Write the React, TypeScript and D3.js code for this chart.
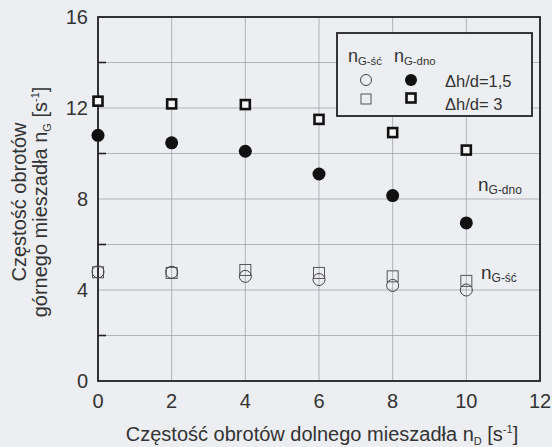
import * as d3 from "d3";

const xVals = [0, 2, 4, 6, 8, 10];
const dnoH15 = [10.8, 10.47, 10.1, 9.1, 8.15, 6.95];
const dnoH3 = [12.3, 12.18, 12.15, 11.5, 10.92, 10.15];
const scH15 = [4.8, 4.78, 4.6, 4.46, 4.2, 4.0];
const scH3 = [4.78, 4.75, 4.88, 4.75, 4.6, 4.4];
const xTicks = [0, 2, 4, 6, 8, 10, 12];
const yTicks = [0, 4, 8, 12, 16];
const yMinor = [2, 6, 10, 14];

const W = 552;
const H = 447;
const m = { left: 98, right: 540, top: 17, bottom: 381 };
const font = "Liberation Sans, Arial, sans-serif";

export default function App() {
  const x = d3.scaleLinear().domain([0, 12]).range([m.left, m.right]);
  const y = d3.scaleLinear().domain([0, 16]).range([m.bottom, m.top]);
  const grid = "#9a9aa0";

  const sq = (cx: number, cy: number, s: number, key: string, bold: boolean) => (
    <rect key={key} x={cx - s / 2} y={cy - s / 2} width={s} height={s}
      fill={bold ? "#f4f4f4" : "none"} stroke={bold ? "#111" : "#555"} strokeWidth={bold ? 2.6 : 1} />
  );

  // n with subscript label
  const nLabel = (tx: number, ty: number, sub: string, size = 19) => (
    <text x={tx} y={ty} fontSize={size} fill="#333">
      n<tspan fontSize={size * 0.63} dy={3}>{sub}</tspan>
    </text>
  );

  return (
    <svg width={W} height={H} style={{ position: "absolute", left: 0, top: 0, background: "#eceef2" }}
      fontFamily={font}>
      <rect x={0} y={0} width={W} height={H} fill="#eceef2" />
      {/* gridlines */}
      {xTicks.map((t) => (
        <line key={"gx" + t} x1={x(t)} x2={x(t)} y1={m.top} y2={m.bottom} stroke={grid} strokeWidth={0.7} />
      ))}
      {[...yTicks, ...yMinor].map((t) => (
        <line key={"gy" + t} x1={m.left} x2={m.right} y1={y(t)} y2={y(t)} stroke={grid} strokeWidth={0.7} />
      ))}
      {yMinor.map((t) => (
        <line key={"tk" + t} x1={m.left} x2={m.left + 8} y1={y(t)} y2={y(t)} stroke="#222" strokeWidth={1.6} />
      ))}
      <rect x={m.left} y={m.top} width={m.right - m.left} height={m.bottom - m.top}
        fill="none" stroke="#222" strokeWidth={1.8} />
      {/* tick labels */}
      {xTicks.map((t) => (
        <text key={"xl" + t} x={x(t)} y={408} textAnchor="middle" fontSize={20} fill="#333">{t}</text>
      ))}
      {yTicks.map((t) => (
        <text key={"yl" + t} x={88} y={y(t) + 7} textAnchor="end" fontSize={20} fill="#333">{t}</text>
      ))}
      {/* axis titles */}
      <text x={322} y={441} textAnchor="middle" fontSize={20} fill="#333">
        Częstość obrotów dolnego mieszadła n<tspan fontSize={11} dy={4}>D</tspan>
        <tspan dy={-4}> [s</tspan><tspan fontSize={11} dy={-8}>-1</tspan><tspan dy={8}>]</tspan>
      </text>
      <g transform="translate(26,202) rotate(-90)">
        <text x={0} y={0} textAnchor="middle" fontSize={20} fill="#333">Częstość obrotów</text>
        <text x={0} y={21} textAnchor="middle" fontSize={20} fill="#333">
          górnego mieszadła n<tspan fontSize={11} dy={4}>G</tspan>
          <tspan dy={-4}> [s</tspan><tspan fontSize={11} dy={-8}>-1</tspan><tspan dy={8}>]</tspan>
        </text>
      </g>
      {/* data */}
      {xVals.map((v, i) => sq(x(v), y(scH3[i]), 11, "s3" + i, false))}
      {xVals.map((v, i) => (
        <circle key={"c15" + i} cx={x(v)} cy={y(scH15[i])} r={6} fill="none" stroke="#444" strokeWidth={1} />
      ))}
      {xVals.map((v, i) => (
        <circle key={"d15" + i} cx={x(v)} cy={y(dnoH15[i])} r={6.5} fill="#111" />
      ))}
      {xVals.map((v, i) => sq(x(v), y(dnoH3[i]), 9, "d3" + i, true))}
      {/* annotations */}
      {nLabel(478, 191, "G-dno")}
      {nLabel(481, 279, "G-ść")}
      {/* legend */}
      <rect x={337} y={33} width={195} height={83} fill="#eceef2" stroke="#222" strokeWidth={1.8} />
      {nLabel(348, 62, "G-ść", 18)}
      {nLabel(394, 62, "G-dno", 18)}
      <circle cx={366} cy={80} r={5.5} fill="none" stroke="#444" strokeWidth={1} />
      <circle cx={411} cy={80} r={6} fill="#111" />
      {sq(366, 99, 10, "ls1", false)}
      {sq(411, 98, 9, "ls2", true)}
      <text x={445} y={87} fontSize={16.5} fill="#333">Δh/d=1,5</text>
      <text x={445} y={110} fontSize={16.5} fill="#333">Δh/d= 3</text>
    </svg>
  );
}
